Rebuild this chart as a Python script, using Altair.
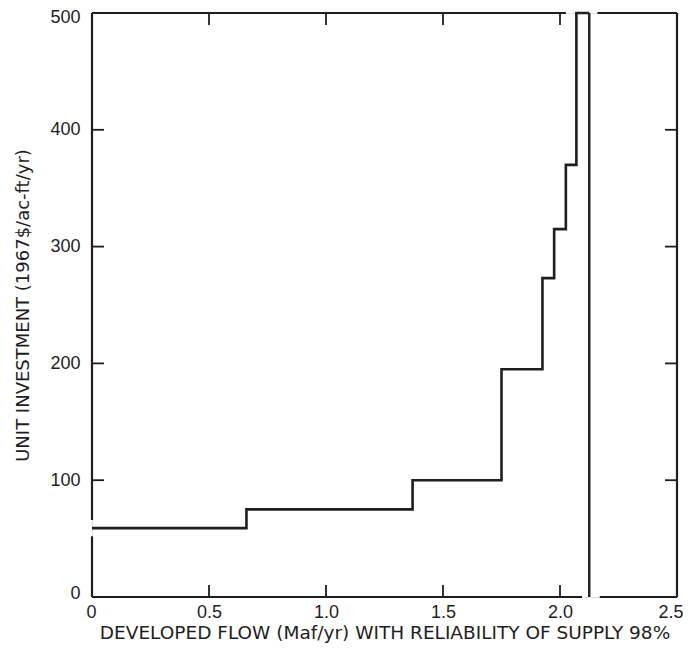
import altair as alt
import pandas as pd

# Step curve (developed flow Maf/yr vs unit investment $/ac-ft/yr)
step_x = [0, 0.66, 0.66, 1.37, 1.37, 1.75, 1.75, 1.925, 1.925, 1.975, 1.975, 2.025, 2.025, 2.07, 2.07, 2.125]
step_y = [59, 59, 75, 75, 100, 100, 195, 195, 273, 273, 315, 315, 370, 370, 500, 500]

# Limit line at maximum developable flow
limit_x = [2.125]
limit_y0 = [0]
limit_y1 = [500]

# Hand-drawn frame segments (with the original's breaks)
seg_x1 = [0, 0, 0, 2.16, 2.5, 0, 2.17]
seg_x2 = [0, 0, 2.025, 2.5, 2.5, 2.094, 2.5]
seg_y1 = [0, 66, 500, 500, 0, 0, 0]
seg_y2 = [52, 500, 500, 500, 500, 0, 0]

x_ticks = [0.5, 1.0, 1.5, 2.0]
y_ticks = [100, 200, 300, 400]
x_labels = [0, 0.5, 1.0, 1.5, 2.0, 2.5]
y_labels = [0, 100, 200, 300, 400, 500]

W, H = 585, 584
LFONT = "Liberation Sans"
TFONT = "DejaVu Sans"
INK = "#1e1e1e"

step_df = pd.DataFrame({"x": step_x, "y": step_y, "o": list(range(len(step_x)))})
limit_df = pd.DataFrame({"x": limit_x, "y": limit_y0, "y2": limit_y1})
seg_df = pd.DataFrame({"x": seg_x1, "x2": seg_x2, "y": seg_y1, "y2": seg_y2})
xt_df = pd.DataFrame({"v": x_ticks})
yt_df = pd.DataFrame({"v": y_ticks})

xscale = alt.Scale(domain=[0, 2.5], nice=False, zero=False)
yscale = alt.Scale(domain=[0, 500], nice=False, zero=False)

xaxis = alt.Axis(
    values=x_labels, ticks=False, domain=False, grid=False,
    labelExpr="datum.value == 0 ? '0' : format(datum.value, '.1f')",
    labelFont=LFONT, labelFontSize=18, labelColor=INK, labelPadding=6,
    labelFlush=True, labelFlushOffset=6,
    title="DEVELOPED FLOW (Maf/yr) WITH RELIABILITY OF SUPPLY 98%",
    titleFont=TFONT, titleFontSize=18.5, titleFontWeight="normal", titleColor=INK,
    titlePadding=2.5,
)
yaxis = alt.Axis(
    values=y_labels, ticks=False, domain=False, grid=False,
    labelFont=LFONT, labelFontSize=18, labelColor=INK, labelPadding=12,
    labelFlush=True, labelFlushOffset=5,
    title="UNIT INVESTMENT (1967$/ac-ft/yr)",
    titleFont=TFONT, titleFontSize=18, titleFontWeight="normal", titleColor=INK,
    titlePadding=17,
)

step = alt.Chart(step_df).mark_line(color=INK, strokeWidth=2.6, strokeJoin="miter").encode(
    x=alt.X("x:Q", scale=xscale, axis=xaxis),
    y=alt.Y("y:Q", scale=yscale, axis=yaxis),
    order="o:Q",
)

limit = alt.Chart(limit_df).mark_rule(color=INK, strokeWidth=2.4).encode(
    x=alt.X("x:Q", scale=xscale), y=alt.Y("y:Q", scale=yscale), y2="y2:Q"
)

frame = alt.Chart(seg_df).mark_rule(color=INK, strokeWidth=2.2).encode(
    x=alt.X("x:Q", scale=xscale), x2="x2:Q",
    y=alt.Y("y:Q", scale=yscale), y2="y2:Q",
)

tick_style = dict(color=INK, strokeWidth=1.8)
bottom_ticks = alt.Chart(xt_df).mark_rule(**tick_style).encode(
    x=alt.X("v:Q", scale=xscale), y=alt.value(H), y2=alt.value(H - 12)
)
top_ticks = alt.Chart(xt_df).mark_rule(**tick_style).encode(
    x=alt.X("v:Q", scale=xscale), y=alt.value(0), y2=alt.value(12)
)
left_ticks = alt.Chart(yt_df).mark_rule(**tick_style).encode(
    y=alt.Y("v:Q", scale=yscale), x=alt.value(0), x2=alt.value(12)
)
right_ticks = alt.Chart(yt_df).mark_rule(**tick_style).encode(
    y=alt.Y("v:Q", scale=yscale), x=alt.value(W), x2=alt.value(W - 12)
)

chart = alt.layer(
    frame, bottom_ticks, top_ticks, left_ticks, right_ticks, step, limit
).properties(
    width=W, height=H,
    autosize=alt.AutoSizeParams(type="none"),
    padding={"left": 84, "top": 5, "right": 6, "bottom": 48},
).configure_view(stroke=None).configure(background="white")

chart.save("out.html", embed_options={"renderer": "svg", "actions": False})
